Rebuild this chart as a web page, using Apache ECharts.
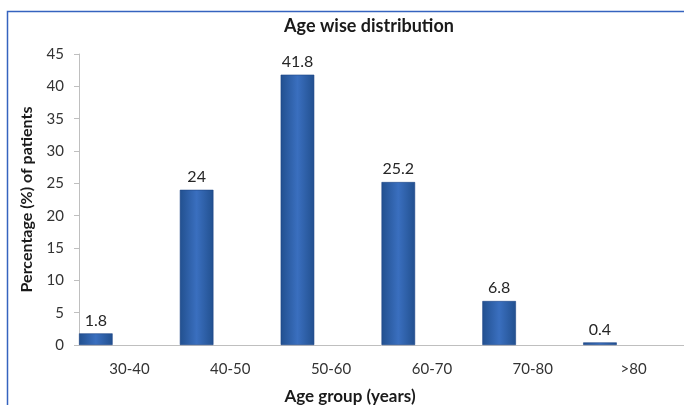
<!DOCTYPE html>
<html>
<head>
<meta charset="utf-8">
<script src="https://cdn.jsdelivr.net/npm/echarts@6/dist/echarts.min.js"></script>
<style>
  html, body { margin: 0; padding: 0; background: #ffffff; }
  #chart { width: 684px; height: 405px; }
</style>
</head>
<body>
<div id="chart"></div>
<script>
// Age groups and share of patients (%)
const ageGroups = ['30-40', '40-50', '50-60', '60-70', '70-80', '>80'];
const patientShare = [1.8, 24, 41.8, 25.2, 6.8, 0.4];
const yTicks = { min: 0, max: 45, step: 5 };

const FONT = 'Lato, "Open Sans", sans-serif';

const chart = echarts.init(document.getElementById('chart'), null, { renderer: 'canvas' });

const barFill = new echarts.graphic.LinearGradient(0, 0, 1, 0, [
  { offset: 0, color: '#22508f' },
  { offset: 0.5, color: '#3a6fbf' },
  { offset: 1, color: '#22508f' }
]);

// empty slots keep each bar at the left third of its category band
const emptySlot = ageGroups.map(() => null);

chart.setOption({
  backgroundColor: '#ffffff',
  animation: false,
  title: [
    {
      text: 'Age wise distribution',
      left: 364, top: 12, textAlign: 'center',
      textStyle: { fontFamily: FONT, fontSize: 18, fontWeight: 'bold', color: '#1a1a1a' }
    },
    {
      text: 'Age group (years)',
      left: 345, top: 383, textAlign: 'center',
      textStyle: { fontFamily: FONT, fontSize: 17, fontWeight: 'bold', color: '#1a1a1a' }
    }
  ],
  graphic: [{
    type: 'rect',
    shape: { x: 7.5, y: 11.5, width: 720, height: 420 },
    style: { fill: 'none', stroke: '#3563bf', lineWidth: 1.5 },
    silent: true
  }],
  grid: { left: 79, right: -6, top: 54, bottom: 60 },
  xAxis: {
    type: 'category',
    data: ageGroups,
    axisLine: { lineStyle: { color: '#bfbfbf', width: 1 } },
    axisTick: { show: false },
    axisLabel: { fontFamily: FONT, fontSize: 15, color: '#333333', margin: 17 },
    splitLine: { show: false }
  },
  yAxis: {
    type: 'value',
    min: yTicks.min, max: yTicks.max, interval: yTicks.step,
    name: 'Percentage (%) of patients',
    nameLocation: 'middle',
    nameGap: 44,
    nameTextStyle: { fontFamily: FONT, fontSize: 16, fontWeight: 'bold', color: '#1a1a1a' },
    axisLine: { show: true, lineStyle: { color: '#bfbfbf', width: 1 } },
    axisTick: { show: true, inside: false, length: 5, lineStyle: { color: '#bfbfbf' } },
    axisLabel: { fontFamily: FONT, fontSize: 15, color: '#333333', margin: 15 },
    splitLine: { show: false }
  },
  series: [
    {
      type: 'bar',
      data: patientShare,
      barGap: '0%',
      barCategoryGap: '0%',
      itemStyle: { color: barFill, borderColor: '#1d4587', borderWidth: 0.6 },
      label: {
        show: true, position: 'top', distance: 5,
        fontFamily: FONT, fontSize: 16, color: '#262626'
      }
    },
    { type: 'bar', data: emptySlot, silent: true },
    { type: 'bar', data: emptySlot, silent: true }
  ]
});
</script>
</body>
</html>
